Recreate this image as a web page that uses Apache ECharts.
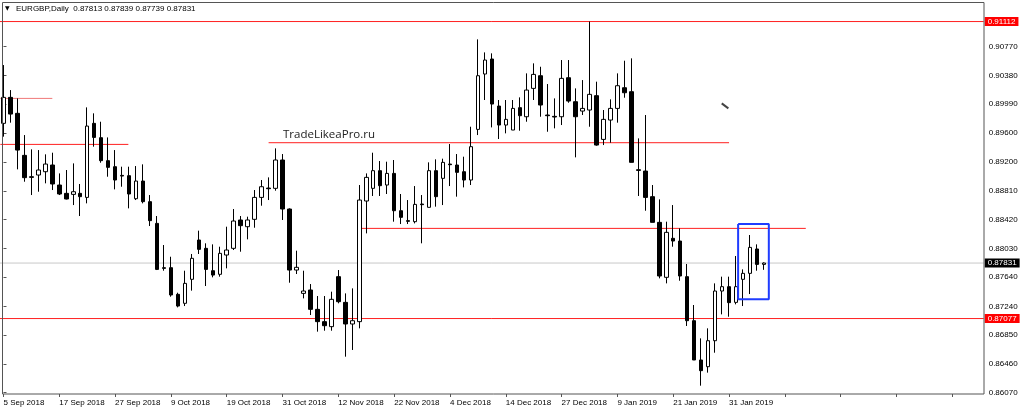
<!DOCTYPE html>
<html>
<head>
<meta charset="utf-8">
<script src="https://cdn.jsdelivr.net/npm/echarts@6/dist/echarts.min.js"></script>
<style>
html,body{margin:0;padding:0;background:#fff;}
#chart{width:1024px;height:413px;}
</style>
</head>
<body>
<div id="chart"></div>
<script>
// ---- Data (EURGBP, Daily) ----
const dates = [
 '5 Sep 2018','6 Sep 2018','7 Sep 2018','10 Sep 2018','11 Sep 2018','12 Sep 2018','13 Sep 2018','14 Sep 2018','17 Sep 2018','18 Sep 2018',
 '19 Sep 2018','20 Sep 2018','21 Sep 2018','24 Sep 2018','25 Sep 2018','26 Sep 2018','27 Sep 2018','28 Sep 2018',
 '1 Oct 2018','2 Oct 2018','3 Oct 2018','4 Oct 2018','5 Oct 2018','8 Oct 2018','9 Oct 2018','10 Oct 2018','11 Oct 2018','12 Oct 2018',
 '15 Oct 2018','16 Oct 2018','17 Oct 2018','18 Oct 2018','19 Oct 2018','22 Oct 2018','23 Oct 2018','24 Oct 2018','25 Oct 2018','26 Oct 2018',
 '29 Oct 2018','30 Oct 2018','31 Oct 2018',
 '1 Nov 2018','2 Nov 2018','5 Nov 2018','6 Nov 2018','7 Nov 2018','8 Nov 2018','9 Nov 2018','12 Nov 2018','13 Nov 2018','14 Nov 2018',
 '15 Nov 2018','16 Nov 2018','19 Nov 2018','20 Nov 2018','21 Nov 2018','22 Nov 2018','23 Nov 2018','26 Nov 2018','27 Nov 2018','28 Nov 2018',
 '29 Nov 2018','30 Nov 2018',
 '3 Dec 2018','4 Dec 2018','5 Dec 2018','6 Dec 2018','7 Dec 2018','10 Dec 2018','11 Dec 2018','12 Dec 2018','13 Dec 2018','14 Dec 2018',
 '17 Dec 2018','18 Dec 2018','19 Dec 2018','20 Dec 2018','21 Dec 2018','24 Dec 2018','26 Dec 2018','27 Dec 2018','28 Dec 2018','31 Dec 2018',
 '2 Jan 2019','3 Jan 2019','4 Jan 2019','7 Jan 2019','8 Jan 2019','9 Jan 2019','10 Jan 2019','11 Jan 2019','14 Jan 2019','15 Jan 2019',
 '16 Jan 2019','17 Jan 2019','18 Jan 2019','21 Jan 2019','22 Jan 2019','23 Jan 2019','24 Jan 2019','25 Jan 2019','28 Jan 2019','29 Jan 2019',
 '30 Jan 2019','31 Jan 2019',
 '1 Feb 2019','4 Feb 2019','5 Feb 2019','6 Feb 2019','7 Feb 2019'
];

const opens = [
 0.89729,0.90082,0.89865,0.89294,0.89004,0.89027,0.89072,0.89163,0.88891,0.88778,
 0.88764,0.88778,0.88723,0.89729,0.89534,0.89222,0.89140,0.89022,0.89018,0.88705,
 0.88945,0.88665,0.88370,0.87768,0.87768,0.87406,0.87284,0.87610,0.88144,0.88031,
 0.87727,0.87678,0.87940,0.88031,0.88416,0.88325,0.88425,0.88723,0.88850,0.88846,
 0.89231,0.88565,0.87736,0.87419,0.87465,0.87202,0.87035,0.86967,0.87646,0.87297,
 0.87003,0.87035,0.88674,0.88846,0.89086,0.88891,0.89049,0.88542,0.88407,0.88393,
 0.88633,0.88588,0.89086,0.88982,0.89176,0.89163,0.89072,0.88959,0.89647,0.90399,
 0.90603,0.89964,0.89706,0.89638,0.89942,0.89819,0.90204,0.90376,0.89842,0.89824,
 0.89819,0.90349,0.90023,0.89896,0.89910,0.90105,0.89511,0.89774,0.89932,0.90213,
 0.90159,0.89099,0.89081,0.88733,0.88384,0.87637,0.88167,0.88130,0.87646,0.87048,
 0.86514,0.86423,0.86776,0.87451,0.87510,0.87297,0.87610,0.87691,0.88022,0.87813
];
const closes = [
 0.90082,0.89855,0.89366,0.88991,0.88995,0.89095,0.89176,0.88905,0.88769,0.88701,
 0.88800,0.88733,0.89692,0.89538,0.89222,0.89131,0.88959,0.89013,0.88769,0.88945,
 0.88665,0.88407,0.87745,0.87759,0.87397,0.87247,0.87555,0.87895,0.88017,0.87745,
 0.87668,0.87963,0.88008,0.88402,0.88339,0.88416,0.88723,0.88868,0.88841,0.89231,
 0.88565,0.87736,0.87773,0.87451,0.87202,0.87035,0.86980,0.87338,0.87306,0.87003,
 0.87048,0.88687,0.88995,0.89086,0.88882,0.89049,0.88542,0.88452,0.88398,0.88628,
 0.88624,0.89086,0.88733,0.89199,0.89167,0.89063,0.88959,0.89412,0.90376,0.90589,
 0.89991,0.89706,0.89783,0.89932,0.89833,0.90181,0.90394,0.89978,0.89833,0.89815,
 0.90340,0.90032,0.89819,0.89932,0.90123,0.89434,0.89783,0.89932,0.90240,0.90145,
 0.89199,0.89090,0.88723,0.88384,0.87655,0.88248,0.88130,0.87655,0.87048,0.86514,
 0.86369,0.86776,0.87451,0.87510,0.87293,0.87510,0.87691,0.88044,0.87813,0.87831
];
const lows = [
 0.89548,0.89738,0.89104,0.88936,0.88755,0.88800,0.88914,0.88823,0.88755,0.88696,
 0.88619,0.88470,0.88642,0.89412,0.89194,0.89004,0.88832,0.88868,0.88574,0.88687,
 0.88642,0.88334,0.87736,0.87727,0.87374,0.87229,0.87247,0.87456,0.87954,0.87519,
 0.87637,0.87646,0.87759,0.88008,0.87985,0.88153,0.88311,0.88610,0.88687,0.88814,
 0.88416,0.87564,0.87682,0.87351,0.87125,0.86899,0.86912,0.86912,0.87284,0.86559,
 0.86650,0.86944,0.88234,0.88742,0.88742,0.88769,0.88393,0.88361,0.88361,0.88370,
 0.88099,0.88588,0.88597,0.88619,0.88877,0.88733,0.88859,0.88891,0.89570,0.90046,
 0.89674,0.89516,0.89593,0.89638,0.89629,0.89751,0.90046,0.89819,0.89615,0.89661,
 0.89706,0.90009,0.89267,0.89842,0.89683,0.89425,0.89434,0.89466,0.89738,0.90077,
 0.89199,0.88742,0.88542,0.88384,0.87623,0.87555,0.88053,0.87591,0.86976,0.86514,
 0.86165,0.86342,0.86613,0.87134,0.87102,0.87270,0.87247,0.87410,0.87727,0.87739
];
const highs = [
 0.90521,0.90181,0.90068,0.89570,0.89376,0.89366,0.89308,0.89330,0.89049,0.89095,
 0.89185,0.88905,0.89946,0.89865,0.89751,0.89538,0.89366,0.89140,0.89140,0.89149,
 0.89172,0.88755,0.88470,0.88076,0.87917,0.87428,0.87727,0.87954,0.88271,0.88099,
 0.88085,0.88053,0.88325,0.88565,0.88470,0.88461,0.88823,0.88959,0.88995,0.89389,
 0.89312,0.88574,0.87999,0.87727,0.87546,0.87383,0.87383,0.87442,0.87736,0.87419,
 0.87487,0.88891,0.89049,0.89330,0.89217,0.89208,0.89231,0.88769,0.88687,0.88877,
 0.88755,0.89199,0.89240,0.89249,0.89448,0.89312,0.89276,0.89683,0.90870,0.90693,
 0.90680,0.90046,0.90046,0.90046,0.90082,0.90408,0.90544,0.90498,0.90263,0.90068,
 0.90589,0.90589,0.90204,0.90317,0.91112,0.90295,0.89910,0.90055,0.90408,0.90580,
 0.90612,0.89525,0.89842,0.88891,0.88696,0.88393,0.88619,0.88302,0.87818,0.87261,
 0.86808,0.86944,0.87555,0.87646,0.87646,0.87927,0.87745,0.88212,0.88085,0.87839
];

// price-axis tick labels
const yTicks = [0.86070,0.86460,0.86850,0.87240,0.87640,0.88030,0.88420,0.88810,0.89200,0.89600,0.89990,0.90380,0.90770];
const yMin = 0.86052, yMax = 0.91364;

// horizontal levels drawn on the chart
const levelTop = 0.91112;
const levelBottom = 0.87077;
const lastPrice = 0.87831;
// segments: [barIndexFrom, price], [barIndexTo, price]
const levelSepHigh = [[-0.45, 0.90068], [7.0, 0.90068]];
const levelSepMid  = [[-0.45, 0.89443], [17.9, 0.89443]];
const levelDec     = [[38.0, 0.89466], [104.0, 0.89466]];
const levelNov     = [[51.0, 0.88302], [115.0, 0.88302]];
const boxFeb = [[105.3,0.88361],[109.7,0.88361],[109.7,0.87338],[105.3,0.87338],[105.3,0.88361]];
const cursorMark = [[102.95,0.90000],[103.9,0.89933]];

const headerText = 'EURGBP,Daily  0.87813 0.87839 0.87739 0.87831';
const watermark = 'TradeLikeaPro.ru';

// ---- Build ----
const SLOTS = 141;
const cats = dates.concat(new Array(SLOTS - dates.length).fill(''));
const ohlc = dates.map((d, i) => [opens[i], closes[i], lows[i], highs[i]]);
const FONT = "'Liberation Sans', Arial, sans-serif";

function seg(data, color, width, z) {
  return {
    type: 'line', xAxisIndex: 1, yAxisIndex: 0, data: data,
    symbol: 'none', silent: true, animation: false, z: z || 1,
    lineStyle: { color: color, width: width || 1 }
  };
}
function fullLevel(price, color, boxColor) {
  const s = seg([[-0.5, price], [SLOTS - 0.5, price]], color, 1, 1);
  s.endLabel = {
    show: true, distance: 1,
    formatter: () => price.toFixed(5),
    color: '#ffffff', fontSize: 8, fontFamily: FONT,
    backgroundColor: boxColor, padding: [1, 3, 0, 3], lineHeight: 8
  };
  return s;
}

const chart = echarts.init(document.getElementById('chart'), null, { renderer: 'canvas' });
chart.setOption({
  animation: false,
  backgroundColor: '#ffffff',
  textStyle: { fontFamily: FONT },
  grid: { left: -0.5, top: 3, width: 984.2, height: 391, containLabel: false },
  xAxis: [
    {
      type: 'category', data: cats, boundaryGap: true,
      axisLine: { show: false },
      axisTick: { show: true, alignWithLabel: true, interval: 7, length: 3, lineStyle: { color: '#555' } },
      axisLabel: { interval: 7, align: 'left', fontSize: 8, color: '#000', margin: 5, fontFamily: FONT },
      splitLine: { show: false }
    },
    { type: 'value', min: -0.5, max: SLOTS - 0.5, show: false }
  ],
  yAxis: {
    type: 'value', position: 'right', min: yMin, max: yMax,
    axisLine: { show: false },
    splitLine: { show: false },
    axisTick: { show: true, customValues: yTicks, length: 3, lineStyle: { color: '#555' } },
    axisLabel: { customValues: yTicks, formatter: v => v.toFixed(5), fontSize: 8, color: '#000', margin: 5, fontFamily: FONT }
  },
  series: [
    fullLevel(lastPrice, '#c8c8c8', '#000000'),
    fullLevel(levelTop, '#ff2020', '#ff0000'),
    fullLevel(levelBottom, '#ff2020', '#ff0000'),
    seg(levelSepHigh, '#f07878', 1),
    seg(levelSepMid, '#ff2020', 1),
    seg(levelDec, '#ff2020', 1),
    seg(levelNov, '#ff2020', 1),
    {
      type: 'candlestick', data: ohlc, barWidth: 4, z: 3,
      itemStyle: {
        color: '#ffffff', color0: '#000000',
        borderColor: '#000000', borderColor0: '#000000', borderColorDoji: '#000000',
        borderWidth: 1
      }
    },
    seg(boxFeb, '#1f3cff', 2, 4),
    seg(cursorMark, '#444444', 2, 4)
  ],
  graphic: [
    { type: 'rect', silent: true, z: 10,
      shape: { x: 2.5, y: 2.5, width: 981.5, height: 391.5 },
      style: { fill: null, stroke: '#555555', lineWidth: 1 } },
    { type: 'text', x: 5, y: 5, z: 11,
      style: { text: '\u25BC', fontSize: 6, fill: '#000', fontFamily: 'DejaVu Sans' } },
    { type: 'text', x: 16, y: 5, z: 11,
      style: { text: headerText, fontSize: 8, fill: '#000', fontFamily: FONT } },
    { type: 'text', x: 283, y: 129, z: 11,
      style: { text: watermark, fontSize: 11.5, fill: '#222', fontFamily: "'Open Sans', sans-serif" } }
  ]
});
</script>
</body>
</html>
